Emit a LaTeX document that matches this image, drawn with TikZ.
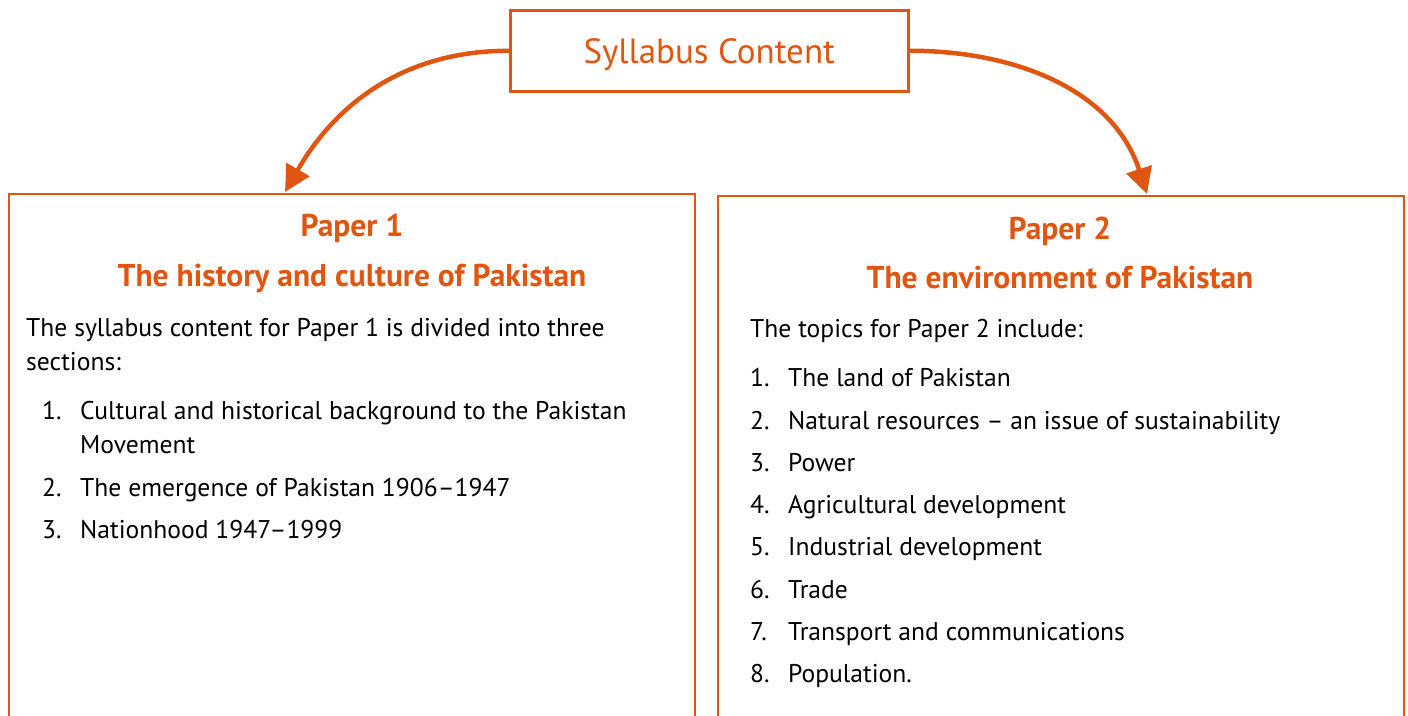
\documentclass[tikz,border=0pt]{standalone}
\usepackage{fontspec}
\setmainfont{PT Sans}[Numbers=Lining]
\usetikzlibrary{arrows.meta}
\definecolor{org}{RGB}{224,86,16}
\tikzset{
  box/.style={draw=org, line width=2.5pt, fill=white},
  heading/.style={text=org, font=\fontsize{31.5}{36}\selectfont\bfseries, anchor=center, inner sep=0pt, text height=25pt, text depth=3pt},
  body/.style={text=black, font=\fontsize{25.6}{34}\selectfont, anchor=west, inner sep=0pt, text height=21pt, text depth=3pt},
  num/.style={body},
  conn/.style={draw=org, line width=4.5pt, -{Triangle[length=26pt,width=26pt]}},
}
\begin{document}
\begin{tikzpicture}[x=1pt,y=-1pt]
\useasboundingbox (0,0) rectangle (1408,715);
\clip (0,0) rectangle (1408,715);
% boxes
\draw[box] (9,194) rectangle (695,760);
\draw[box] (718,196) rectangle (1404,760);
\node[box, minimum width=398pt, minimum height=81pt, anchor=north west, inner sep=0pt,
      text=org, font=\fontsize{35}{40}\selectfont, text height=28pt, text depth=2pt] (top) at (509,9) {Syllabus Content};
\coordinate (p1in) at (285,192);
\coordinate (p2in) at (1147,194);
\draw[conn] (top.west) to[out=180, in=60] (p1in);
\draw[conn] (top.east) to[out=0, in=108] (p2in);
% left content
\node[heading] (p1a) at (352,225) {Paper 1};
\node[heading] (p1b) at (352,275) {The history and culture of Pakistan};
\node[body] (l0) at (26,327) {The syllabus content for Paper 1 is divided into three};
\node[body] (l0b) at (26,361) {sections:};
\node[num] (n1) at (42,410) {1.};
\node[body] (t1) at (80,410) {Cultural and historical background to the Pakistan};
\node[body] (t1b) at (80,444) {Movement};
\node[num] (n2) at (42,487) {2.};
\node[body] (t2) at (80,487) {The emergence of Pakistan 1906–1947};
\node[num] (n3) at (42,529) {3.};
\node[body] (t3) at (80,529) {Nationhood 1947–1999};
% right content
\node[heading] (p2a) at (1060,228) {Paper 2};
\node[heading] (p2b) at (1060,277) {The environment of Pakistan};
\node[body] (r0) at (750,328) {The topics for Paper 2 include:};
\foreach \i/\y/\t in {1/377/The land of Pakistan,
  2/420/Natural resources – an issue of sustainability,
  3/462/Power,
  4/504/Agricultural development,
  5/546/Industrial development,
  6/589/Trade,
  7/631/Transport and communications,
  8/673/Population.}{
  \node[num] (rn\i) at (750,\y) {\i.};
  \node[body] (rt\i) at (788,\y) {\t};
}
\end{tikzpicture}
\end{document}
